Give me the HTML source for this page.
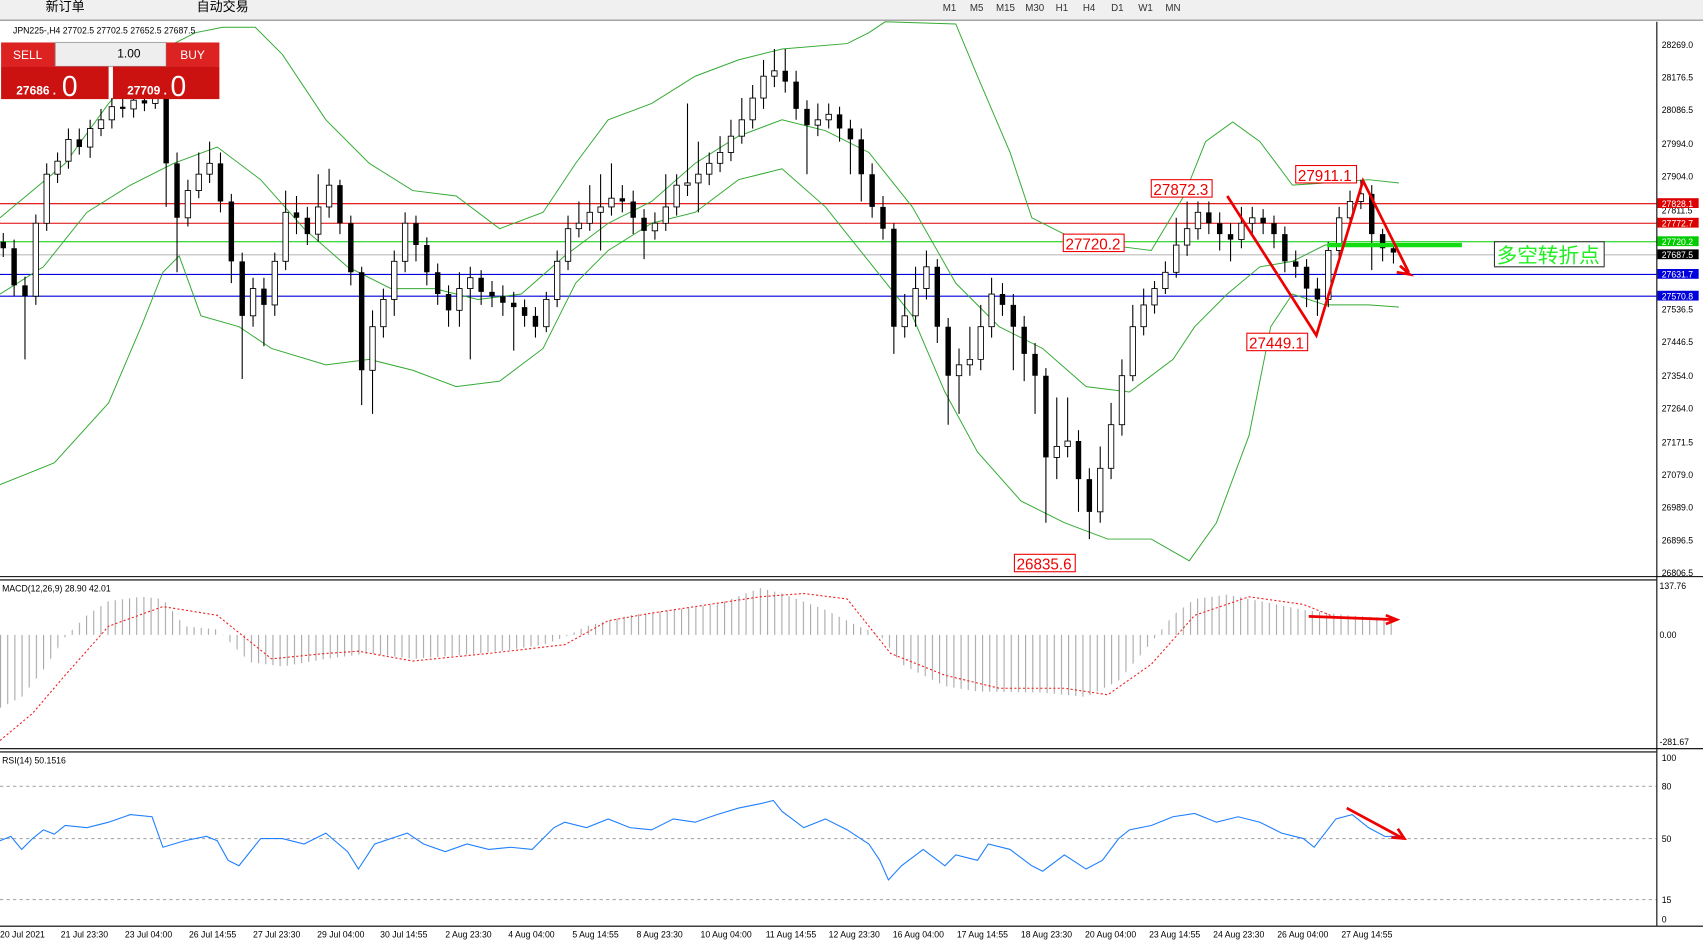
<!DOCTYPE html><html><head><meta charset="utf-8"><style>
html,body{margin:0;padding:0;background:#fff;overflow:hidden}
svg{display:block;font-family:"Liberation Sans","Noto Sans CJK SC",sans-serif}
</style></head><body>
<svg width="1703" height="942" viewBox="0 0 1568 865" preserveAspectRatio="none" xmlns="http://www.w3.org/2000/svg">
<defs><pattern id="hp" width="6.6" height="10" patternUnits="userSpaceOnUse"><rect x="0" y="0" width="1" height="10" fill="#a8a8a8"/></pattern></defs>
<rect width="1568" height="865" fill="#fff"/>
<rect width="1568" height="18" fill="#f0f0f0"/>
<line x1="0" y1="18.5" x2="1568" y2="18.5" stroke="#888"/>
<text x="42" y="10" font-size="12">新订单</text>
<text x="181" y="10" font-size="12">自动交易</text>
<g font-size="9" fill="#333"><text x="868" y="10">M1</text><text x="893" y="10">M5</text><text x="917" y="10">M15</text><text x="944" y="10">M30</text><text x="972" y="10">H1</text><text x="997" y="10">H4</text><text x="1023" y="10">D1</text><text x="1048" y="10">W1</text><text x="1073" y="10">MN</text></g>

<!-- levels -->
<line x1="0" y1="187" x2="1525" y2="187" stroke="#d00"/>
<line x1="0" y1="205" x2="1525" y2="205" stroke="#d00"/>
<line x1="0" y1="222" x2="1525" y2="222" stroke="#0c0"/>
<line x1="0" y1="234" x2="1525" y2="234" stroke="#bbb"/>
<line x1="0" y1="252" x2="1525" y2="252" stroke="#00d"/>
<line x1="0" y1="272" x2="1525" y2="272" stroke="#00d"/>

<!-- bollinger -->
<g fill="none" stroke="#3a3" stroke-width="0.9">
<polyline points="0,200 30,175 60,150 100,95 140,50 180,30 205,25 235,25 260,50 300,110 340,150 380,175 420,180 460,210 500,195 530,150 560,110 600,95 640,70 680,55 720,45 780,40 800,30 815,20 880,22 900,70 930,140 950,200 980,215 1020,225 1060,230 1090,180 1110,130 1135,112 1160,130 1190,170 1220,168 1260,165 1288,168"/>
<polyline points="0,270 40,245 80,195 120,170 160,150 200,135 240,165 280,210 320,245 360,265 400,265 440,275 480,270 520,235 560,205 600,185 640,150 680,125 720,110 760,120 800,140 840,190 880,260 920,300 960,320 1000,355 1040,360 1080,330 1100,300 1130,270 1160,245 1190,240 1220,225 1260,225 1288,226"/>
<polyline points="0,445 50,425 100,370 130,300 150,250 165,235 185,290 220,300 250,320 300,335 340,330 380,340 420,355 460,350 500,320 530,260 560,230 600,205 640,195 680,165 720,155 760,190 800,240 840,290 870,360 900,415 940,460 980,480 1020,495 1060,495 1095,515 1120,480 1150,400 1170,300 1190,270 1220,280 1260,280 1288,282"/>
</g>

<!-- candles: wicks -->
<path stroke="#000" stroke-width="1" fill="none" d="M3 214V236M13 220V272M23 254V330M33 197V280M43 150V212M53 140V168M63 118V155M73 118V142M83 110V145M93 100V125M103 90V118M113 85V108M123 84V108M133 85V102M143 80V100M153 80V190M163 140V250M173 165V208M183 140V182M193 130V168M203 140V195M213 178V260M223 232V348M233 255V300M243 255V318M253 232V290M263 175V248M273 180V215M283 190V225M293 160V222M303 155V200M313 165V215M323 198V262M333 245V372M343 285V380M353 265V310M363 230V290M373 195V250M383 198V240M393 218V262M403 242V280M413 262V300M423 250V300M433 245V330M443 248V280M453 258V282M463 262V290M473 268V322M483 275V300M493 282V310M503 268V305M513 230V282M523 198V248M533 185V218M543 170V212M553 160V230M563 150V198M573 170V195M583 175V215M593 192V238M603 195V220M613 160V212M623 160V198M633 95V180M643 130V195M653 140V170M663 125V158M673 110V148M683 90V132M693 78V118M703 55V100M713 45V80M723 45V85M733 65V110M743 92V160M753 95V125M763 95V118M773 98V130M783 110V160M793 118V185M803 150V200M813 180V220M823 205V325M833 270V310M843 245V300M853 230V275M863 238V315M873 292V390M883 320V380M893 300V345M903 280V340M913 255V310M923 260V290M933 270V340M943 290V350M953 315V380M963 338V480M973 365V440M983 365V420M993 395V470M1003 430V495M1013 410V480M1023 370V440M1033 330V400M1043 280V350M1053 265V308M1063 258V288M1073 240V270M1083 200V255M1093 185V235M1103 185V220M1113 185V215M1123 195V230M1133 205V240M1143 190V228M1153 190V215M1163 192V215M1173 198V228M1183 208V250M1193 230V255M1203 238V282M1213 255V290M1223 222V282M1233 190V238M1243 175V205M1253 165V192M1263 170V248M1273 210V240M1283 222V242"/>
<!-- black bodies -->
<path fill="#000" d="M0.5 222h5v6h-5zM10.5 228h5v34h-5zM20.5 262h5v10h-5zM70.5 128h5v7h-5zM110.5 98h5v2h-5zM130.5 92h5v3h-5zM150.5 86h5v64h-5zM160.5 150h5v50h-5zM200.5 150h5v35h-5zM210.5 185h5v55h-5zM220.5 240h5v50h-5zM240.5 265h5v15h-5zM270.5 195h5v5h-5zM280.5 200h5v15h-5zM310.5 170h5v35h-5zM320.5 205h5v45h-5zM330.5 250h5v90h-5zM380.5 205h5v20h-5zM390.5 225h5v25h-5zM400.5 250h5v20h-5zM410.5 270h5v15h-5zM440.5 255h5v13h-5zM450.5 268h5v4h-5zM460.5 272h5v6h-5zM470.5 278h5v4h-5zM480.5 282h5v8h-5zM490.5 290h5v10h-5zM570.5 182h5v3h-5zM580.5 185h5v15h-5zM590.5 200h5v12h-5zM720.5 65h5v10h-5zM730.5 75h5v25h-5zM740.5 100h5v15h-5zM770.5 105h5v13h-5zM780.5 118h5v10h-5zM790.5 128h5v32h-5zM800.5 160h5v30h-5zM810.5 190h5v20h-5zM820.5 210h5v90h-5zM860.5 245h5v55h-5zM870.5 300h5v45h-5zM920.5 270h5v10h-5zM930.5 280h5v20h-5zM940.5 300h5v25h-5zM950.5 325h5v20h-5zM960.5 345h5v75h-5zM990.5 405h5v35h-5zM1000.5 440h5v30h-5zM1110.5 195h5v10h-5zM1120.5 205h5v10h-5zM1130.5 215h5v5h-5zM1160.5 200h5v5h-5zM1170.5 205h5v10h-5zM1180.5 215h5v25h-5zM1190.5 240h5v5h-5zM1200.5 245h5v20h-5zM1210.5 265h5v10h-5zM1260.5 178h5v37h-5zM1270.5 215h5v13h-5zM1280.5 228h5v4h-5z"/>
<!-- white bodies -->
<path fill="#fff" stroke="#000" stroke-width="0.8" d="M30.5 205h5v67h-5zM40.5 160h5v45h-5zM50.5 148h5v12h-5zM60.5 128h5v20h-5zM80.5 118h5v17h-5zM90.5 110h5v8h-5zM100.5 98h5v12h-5zM120.5 92h5v8h-5zM140.5 86h5v9h-5zM170.5 175h5v25h-5zM180.5 160h5v15h-5zM190.5 150h5v10h-5zM230.5 265h5v25h-5zM250.5 240h5v40h-5zM260.5 195h5v45h-5zM290.5 190h5v25h-5zM300.5 170h5v20h-5zM340.5 300h5v40h-5zM350.5 275h5v25h-5zM360.5 240h5v35h-5zM370.5 205h5v35h-5zM420.5 265h5v20h-5zM430.5 255h5v10h-5zM500.5 275h5v25h-5zM510.5 240h5v35h-5zM520.5 210h5v30h-5zM530.5 205h5v5h-5zM540.5 195h5v10h-5zM550.5 190h5v5h-5zM560.5 182h5v8h-5zM600.5 205h5v7h-5zM610.5 190h5v15h-5zM620.5 170h5v20h-5zM630.5 168h5v2h-5zM640.5 160h5v8h-5zM650.5 150h5v10h-5zM660.5 140h5v10h-5zM670.5 125h5v15h-5zM680.5 110h5v15h-5zM690.5 90h5v20h-5zM700.5 70h5v20h-5zM710.5 65h5v5h-5zM750.5 110h5v5h-5zM760.5 105h5v5h-5zM830.5 290h5v10h-5zM840.5 265h5v25h-5zM850.5 245h5v20h-5zM880.5 335h5v10h-5zM890.5 330h5v5h-5zM900.5 300h5v30h-5zM910.5 270h5v30h-5zM970.5 410h5v10h-5zM980.5 405h5v5h-5zM1010.5 430h5v40h-5zM1020.5 390h5v40h-5zM1030.5 345h5v45h-5zM1040.5 300h5v45h-5zM1050.5 280h5v20h-5zM1060.5 265h5v15h-5zM1070.5 250h5v15h-5zM1080.5 225h5v25h-5zM1090.5 210h5v15h-5zM1100.5 195h5v15h-5zM1140.5 205h5v15h-5zM1150.5 200h5v5h-5zM1220.5 230h5v45h-5zM1230.5 200h5v30h-5zM1240.5 185h5v15h-5zM1250.5 178h5v7h-5z"/>

<!-- MACD -->
<polygon fill="url(#hp)" points="0,583 0,650 20,640 40,615 60,585 80,565 100,552 130,548 150,550 170,575 200,578 230,608 260,612 300,605 340,600 380,605 420,602 460,598 500,592 520,585 540,575 580,565 620,560 660,555 700,540 720,545 760,560 790,575 810,583 830,610 870,630 900,635 960,636 1000,640 1030,625 1060,590 1080,565 1100,550 1130,546 1160,552 1200,560 1240,565 1285,568 1285,583"/>
<polyline fill="none" stroke="#e22" stroke-dasharray="2,2" points="0,680 30,655 60,620 100,575 150,557 200,565 250,605 300,600 330,598 380,607 450,600 520,592 560,570 600,563 700,548 740,545 780,550 820,600 870,620 920,632 980,632 1020,638 1060,610 1100,565 1150,548 1200,555 1230,567 1285,570"/>

<!-- RSI -->
<g stroke="#aaa" stroke-dasharray="3,3"><line x1="0" y1="722" x2="1525" y2="722"/><line x1="0" y1="770" x2="1525" y2="770"/><line x1="0" y1="826" x2="1525" y2="826"/></g>
<polyline fill="none" stroke="#1e7fff" points="0,772 10,768 20,780 30,770 40,762 50,766 60,758 80,760 100,755 120,748 140,750 150,778 170,772 190,768 200,772 210,790 220,795 240,770 260,770 280,775 300,765 320,782 330,798 345,775 360,770 375,765 390,775 410,782 430,775 450,780 470,778 490,780 500,770 510,760 520,755 540,760 560,752 580,760 600,762 620,752 640,755 660,748 680,742 700,738 712,735 720,745 740,760 760,752 780,762 800,775 810,790 818,808 830,795 850,780 870,795 880,785 900,790 910,775 930,780 950,795 960,800 980,785 1000,798 1015,790 1030,770 1040,762 1060,758 1080,750 1100,747 1120,755 1140,750 1160,755 1180,765 1200,770 1210,778 1220,765 1230,752 1245,748 1260,760 1275,768 1288,768"/>

<!-- panels -->
<line x1="1525.5" y1="20" x2="1525.5" y2="850" stroke="#000"/>
<line x1="0" y1="529.5" x2="1568" y2="529.5" stroke="#000"/>
<line x1="0" y1="532.5" x2="1525" y2="532.5" stroke="#000"/>
<line x1="0" y1="687.5" x2="1568" y2="687.5" stroke="#000"/>
<line x1="0" y1="690.5" x2="1525" y2="690.5" stroke="#000"/>
<line x1="0" y1="850.5" x2="1568" y2="850.5" stroke="#000"/>

<g font-size="8" fill="#000">
<text x="1530" y="44">28269.0</text><text x="1530" y="74">28176.5</text><text x="1530" y="104">28086.5</text><text x="1530" y="135">27994.0</text><text x="1530" y="165">27904.0</text><text x="1530" y="196">27811.5</text><text x="1530" y="287">27536.5</text><text x="1530" y="317">27446.5</text><text x="1530" y="348">27354.0</text><text x="1530" y="378">27264.0</text><text x="1530" y="409">27171.5</text><text x="1530" y="439">27079.0</text><text x="1530" y="469">26989.0</text><text x="1530" y="499">26896.5</text><text x="1530" y="529">26806.5</text>
<text x="1528" y="541">137.76</text><text x="1528" y="586">0.00</text><text x="1528" y="684">-281.67</text>
<text x="1530" y="699">100</text><text x="1530" y="725">80</text><text x="1530" y="773">50</text><text x="1530" y="829">15</text><text x="1530" y="847">0</text>
</g>
<rect x="1526" y="182" width="38" height="9" fill="#d00"/><text x="1530" y="190" font-size="8" fill="#fff">27828.1</text>
<rect x="1526" y="200" width="38" height="9" fill="#d00"/><text x="1530" y="208" font-size="8" fill="#fff">27772.7</text>
<rect x="1526" y="217" width="38" height="9" fill="#0c0"/><text x="1530" y="225" font-size="8" fill="#fff">27720.2</text>
<rect x="1526" y="229" width="38" height="9" fill="#000"/><text x="1530" y="237" font-size="8" fill="#fff">27687.5</text>
<rect x="1526" y="247" width="38" height="9" fill="#00d"/><text x="1530" y="255" font-size="8" fill="#fff">27631.7</text>
<rect x="1526" y="267" width="38" height="9" fill="#00d"/><text x="1530" y="275" font-size="8" fill="#fff">27570.8</text>
<g font-size="8" fill="#000">
<text x="0" y="861">20 Jul 2021</text><text x="56" y="861">21 Jul 23:30</text><text x="115" y="861">23 Jul 04:00</text><text x="174" y="861">26 Jul 14:55</text><text x="233" y="861">27 Jul 23:30</text><text x="292" y="861">29 Jul 04:00</text><text x="350" y="861">30 Jul 14:55</text><text x="410" y="861">2 Aug 23:30</text><text x="468" y="861">4 Aug 04:00</text><text x="527" y="861">5 Aug 14:55</text><text x="586" y="861">8 Aug 23:30</text><text x="645" y="861">10 Aug 04:00</text><text x="705" y="861">11 Aug 14:55</text><text x="763" y="861">12 Aug 23:30</text><text x="822" y="861">16 Aug 04:00</text><text x="881" y="861">17 Aug 14:55</text><text x="940" y="861">18 Aug 23:30</text><text x="999" y="861">20 Aug 04:00</text><text x="1058" y="861">23 Aug 14:55</text><text x="1117" y="861">24 Aug 23:30</text><text x="1176" y="861">26 Aug 04:00</text><text x="1235" y="861">27 Aug 14:55</text>
<text x="2" y="543">MACD(12,26,9) 28.90 42.01</text><text x="2" y="701">RSI(14) 50.1516</text>
<text x="12" y="31">JPN225-,H4  27702.5 27702.5 27652.5 27687.5</text>
</g>
<rect x="1" y="39" width="50" height="22" fill="#d22"/><text x="12" y="54" font-size="11" fill="#fff">SELL</text>
<rect x="51" y="39" width="102" height="22" fill="#eee" stroke="#aaa"/><text x="108" y="53" font-size="11">1.00</text>
<rect x="153" y="39" width="49" height="22" fill="#d22"/><text x="166" y="54" font-size="11" fill="#fff">BUY</text>
<rect x="1" y="61" width="99" height="30" fill="#c11"/><rect x="104" y="61" width="98" height="30" fill="#c11"/>
<text x="15" y="87" font-size="11" font-weight="bold" fill="#fff">27686 .</text><text x="57" y="88" font-size="26" fill="#fff">0</text>
<text x="117" y="87" font-size="11" font-weight="bold" fill="#fff">27709 .</text><text x="157" y="88" font-size="26" fill="#fff">0</text>
<g font-size="14" fill="#e00">
<rect x="1060" y="165" width="56" height="16" fill="#fff" stroke="#e00"/><text x="1062" y="179">27872.3</text>
<rect x="1193" y="152" width="56" height="16" fill="#fff" stroke="#e00"/><text x="1195" y="166">27911.1</text>
<rect x="979" y="215" width="56" height="16" fill="#fff" stroke="#e00"/><text x="981" y="229">27720.2</text>
<rect x="1148" y="306" width="56" height="16" fill="#fff" stroke="#e00"/><text x="1150" y="320">27449.1</text>
<rect x="934" y="509" width="56" height="16" fill="#fff" stroke="#e00"/><text x="936" y="523">26835.6</text>
</g>
<line x1="1222" y1="225" x2="1346" y2="225" stroke="#1d1" stroke-width="4"/>
<rect x="1376" y="222" width="101" height="23" fill="#fff" stroke="#333"/><text x="1378" y="241" font-size="19" fill="#2e2">多空转折点</text>
<g stroke="#e00" stroke-width="2.5" fill="none">
<polyline points="1130,180 1212,308 1255,166 1297,250"/>
<polyline points="1289,244 1298,252 1286,250"/>
<line x1="1205" y1="566" x2="1285" y2="569"/><polyline points="1276,565 1286,569 1276,573"/>
<line x1="1240" y1="742" x2="1292" y2="770"/><polyline points="1281,769 1293,770 1287,761"/>
</g>
</svg>
</body></html>
